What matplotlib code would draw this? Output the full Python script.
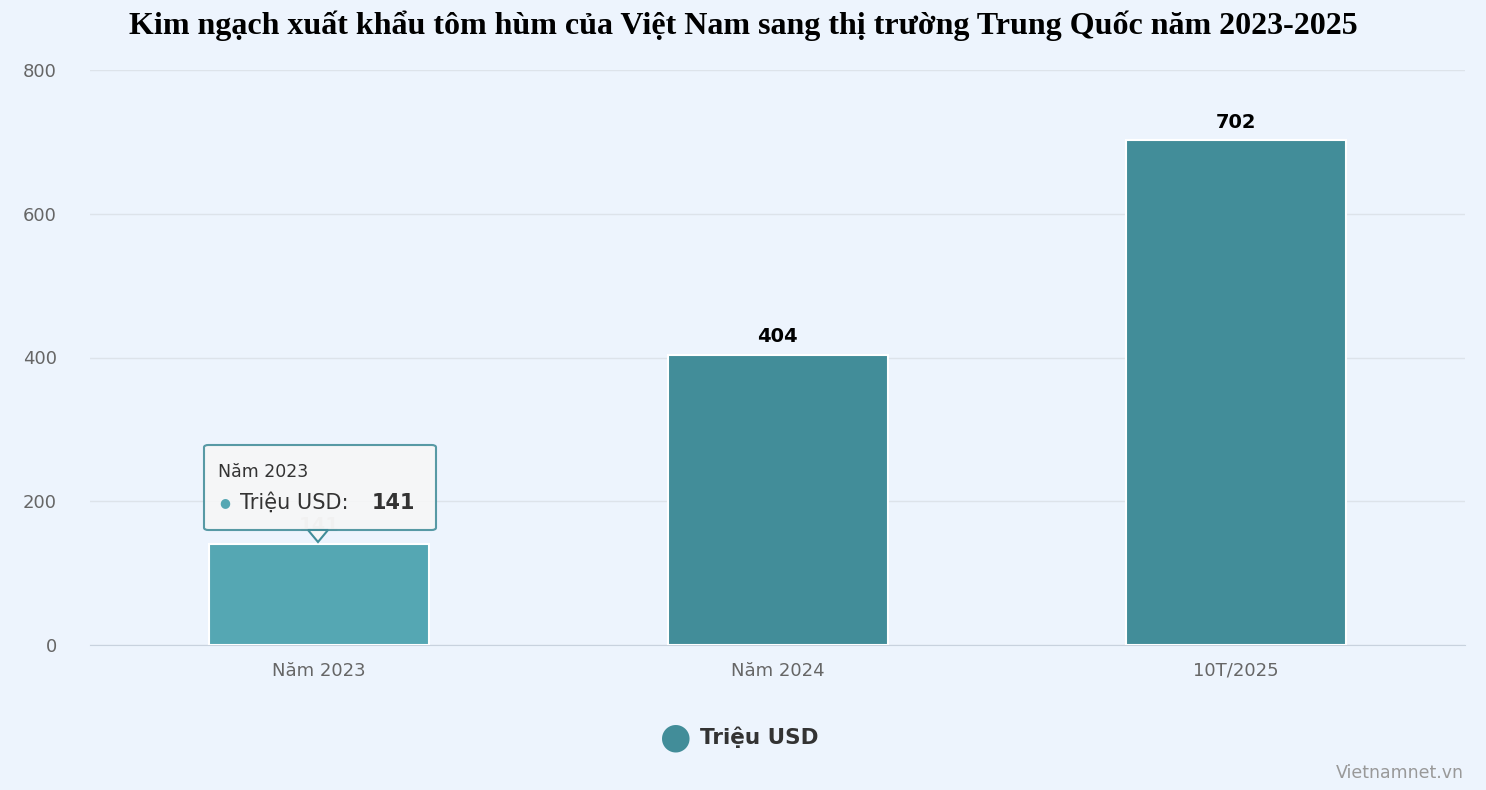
import matplotlib
matplotlib.use("Agg")
import matplotlib.pyplot as plt
from matplotlib.patches import FancyBboxPatch, Polygon

categories = ["Năm 2023", "Năm 2024", "10T/2025"]
values = [141, 404, 702]
series_name = "Triệu USD"
yticks = [0, 200, 400, 600, 800]

bg = "#EDF4FD"
bar_c = "#428D99"
hi_c = "#55A7B3"

fig = plt.figure(figsize=(14.86, 7.9), dpi=100, facecolor=bg)
ax = fig.add_axes([90/1486, 1-645/790, 1375/1486, 575/790], facecolor=bg)
x = list(range(len(categories)))
colors = [hi_c] + [bar_c]*(len(values)-1)
bars = ax.bar(x, values, width=0.48, color=colors, edgecolor="white", linewidth=1.5, zorder=3)
ax.set_xlim(-0.5, len(categories)-0.5)
ax.set_ylim(0, 800)
ax.set_yticks(yticks)
ax.set_yticklabels([str(t) for t in yticks], fontsize=13, color="#666666", family="DejaVu Sans")
ax.set_xticks(x)
ax.set_xticklabels(categories, fontsize=13, color="#666666", family="DejaVu Sans")
ax.tick_params(axis="x", length=0, pad=12)
ax.tick_params(axis="y", length=0, pad=24)
ax.grid(axis="y", color="#DDE3EA", linewidth=1, zorder=0)
for s in ["top", "right", "left"]:
    ax.spines[s].set_visible(False)
ax.spines["bottom"].set_color("#C8D2DE")

for i, v in enumerate(values):
    ax.annotate(str(v), (i, v), xytext=(0, 6), textcoords="offset points",
                ha="center", va="bottom", fontsize=14, fontweight="bold",
                color="#000000" if i else "#CCCCCC", zorder=4)

fig.text(0.5, 1-26/790, "Kim ngạch xuất khẩu tôm hùm của Việt Nam sang thị trường Trung Quốc năm 2023-2025",
         ha="center", va="center", fontsize=23, fontweight="bold", family="Liberation Serif")

# tooltip
tb = FancyBboxPatch((204/1486, 1-530/790), 232/1486, 85/790, boxstyle="round,pad=0,rounding_size=0.003",
                    transform=fig.transFigure, facecolor="#F7F7F7", edgecolor=bar_c, linewidth=1.5,
                    alpha=0.88, zorder=10)
fig.patches.append(tb)
tri = Polygon([(308/1486, 1-530/790), (328/1486, 1-530/790), (318/1486, 1-542/790)], closed=True,
              transform=fig.transFigure, facecolor="#F7F7F7", edgecolor=bar_c, linewidth=1.5, zorder=10)
fig.patches.append(tri)
fig.text(218/1486, 1-472/790, categories[0], fontsize=12.5, color="#333333", va="center", zorder=11)
fig.text(219/1486, 1-503/790, "●", fontsize=9, color=hi_c, va="center", zorder=11)
fig.text(240/1486, 1-503/790, f"{series_name}:", fontsize=15, color="#333333", va="center", zorder=11)
fig.text(372/1486, 1-503/790, str(values[0]), fontsize=15, fontweight="bold", color="#333333", va="center", zorder=11)

# legend
fig.text(676/1486, 1-737/790, "●", fontsize=26, color=bar_c, ha="center", va="center")
fig.text(700/1486, 1-737/790, series_name, fontsize=15.5, fontweight="bold", color="#333333", va="center")
fig.text(1464/1486, 1-773/790, "Vietnamnet.vn", fontsize=12.5, color="#999999", ha="right", va="center")

fig.savefig("out.png", dpi=100, facecolor=bg)
